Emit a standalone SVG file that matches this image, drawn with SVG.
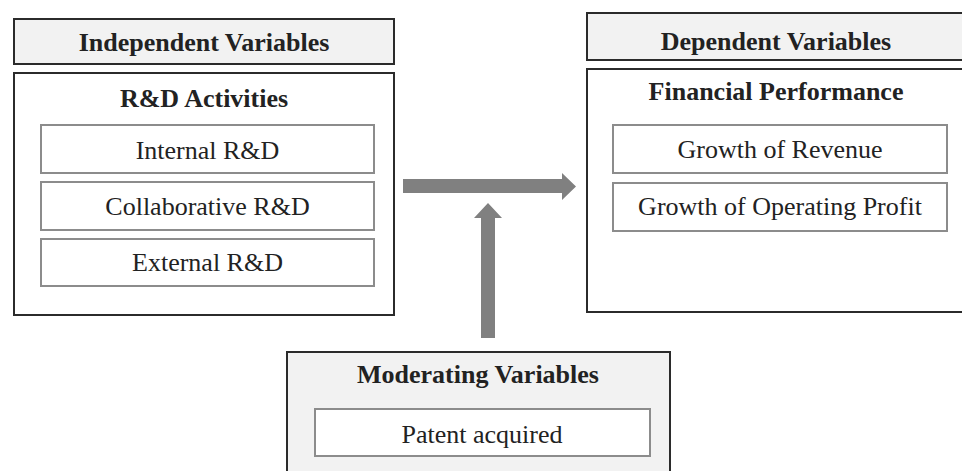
<svg xmlns="http://www.w3.org/2000/svg" width="962" height="471" viewBox="0 0 962 471">
<style>
.bg{fill:#ffffff}
.hdr{fill:#f2f2f2;stroke:#2b2b2b;stroke-width:2}
.outer{fill:#ffffff;stroke:#2b2b2b;stroke-width:2}
.inner{fill:#ffffff;stroke:#8c8c8c;stroke-width:2}
.t{font-family:"Liberation Serif","Times New Roman",serif;font-size:26px;fill:#222222;text-anchor:middle}
.b{font-weight:bold}
.arrow{fill:#808080}
</style>
<rect class="bg" x="0" y="0" width="962" height="471"/>
<g id="independent">
  <rect class="hdr" x="14" y="19" width="380" height="45"/>
  <text class="t b" x="204" y="51">Independent Variables</text>
  <rect class="outer" x="14" y="73" width="380" height="242"/>
  <text class="t b" x="204" y="107">R&amp;D Activities</text>
  <g id="internal">
    <rect class="inner" x="41" y="125" width="333" height="48"/>
    <text class="t" x="207.5" y="159">Internal R&amp;D</text>
  </g>
  <g id="collaborative">
    <rect class="inner" x="41" y="182" width="333" height="48"/>
    <text class="t" x="207.5" y="215">Collaborative R&amp;D</text>
  </g>
  <g id="external">
    <rect class="inner" x="41" y="239" width="333" height="47"/>
    <text class="t" x="207.5" y="271">External R&amp;D</text>
  </g>
</g>
<g id="dependent">
  <rect class="hdr" x="587" y="13" width="378" height="47"/>
  <text class="t b" x="776" y="50">Dependent Variables</text>
  <rect class="outer" x="587" y="69" width="378" height="243"/>
  <text class="t b" x="776" y="100">Financial Performance</text>
  <g id="revenue">
    <rect class="inner" x="613" y="125" width="334" height="48"/>
    <text class="t" x="780" y="158">Growth of Revenue</text>
  </g>
  <g id="profit">
    <rect class="inner" x="613" y="183" width="334" height="48"/>
    <text class="t" x="780" y="215">Growth of Operating Profit</text>
  </g>
</g>
<g id="moderating">
  <rect class="hdr" x="287" y="352" width="383" height="125"/>
  <text class="t b" x="478" y="383">Moderating Variables</text>
  <g id="patent">
    <rect class="inner" x="315" y="409" width="335" height="47"/>
    <text class="t" x="482" y="443">Patent acquired</text>
  </g>
</g>
<g id="connectors">
  <polygon class="arrow" points="403,179 562,179 562,173 576,186.5 562,200 562,193 403,193"/>
  <polygon class="arrow" points="481,338 481,218 474,218 488,203 502,218 495,218 495,338"/>
</g>
</svg>
